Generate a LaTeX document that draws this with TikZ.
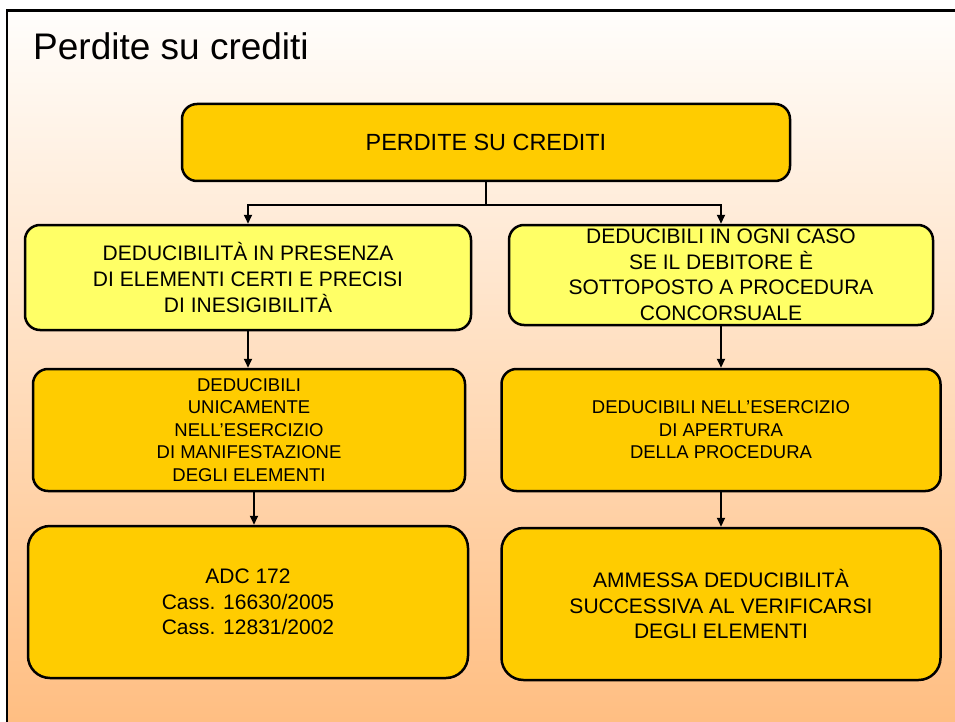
\documentclass[tikz,border=0pt]{standalone}
\usepackage{fontspec}
\setmainfont{Liberation Sans}
\usetikzlibrary{arrows.meta,calc}
\definecolor{dkyel}{HTML}{FFCC00}
\definecolor{ltyel}{HTML}{FFFF66}
\definecolor{bgtop}{HTML}{FFFEFC}
\definecolor{bgmid}{HTML}{FDDCC5}
\definecolor{bgbot}{HTML}{FFBE82}
\begin{document}
\begin{tikzpicture}[x=1pt,y=-1pt,
  box/.style={draw=black, line width=2.5pt, rounded corners=15pt, align=center, inner sep=0pt},
  bigbox/.style={box, rounded corners=22pt},
  fa/.style={font=\fontsize{21}{26}\selectfont},
  fb/.style={font=\fontsize{18.5}{22.4}\selectfont},
  arr/.style={line width=2pt, -{Triangle[width=8pt,length=9pt]}},
  conn/.style={line width=2pt}]
\useasboundingbox (0,0) rectangle (955,722);
% background
\fill[white] (0,0) rectangle (955,722);
\shade[top color=bgtop, middle color=bgmid, bottom color=bgbot] (7,10) rectangle (955,722);
\draw[line width=2.8pt] (7,722) -- (7,10.5) -- (955,10.5);
% title
\node[anchor=base west, inner sep=0pt, font=\fontsize{37}{44}\selectfont] (title) at (33,60) {Perdite su crediti};
% boxes
\node[box, fill=dkyel, minimum width=608pt, minimum height=77pt, font=\fontsize{23.4}{28}\selectfont] (top) at (486,142.5) {PERDITE SU CREDITI};
\node[box, fill=ltyel, fa, minimum width=446pt, minimum height=105pt] (l2l) at (248,277.5)
  {DEDUCIBILITÀ IN PRESENZA\\DI ELEMENTI CERTI E PRECISI\\DI INESIGIBILITÀ};
\node[box, fill=ltyel, font=\fontsize{21}{25.5}\selectfont, minimum width=424pt, minimum height=100pt] (l2r) at (721,275)
  {DEDUCIBILI IN OGNI CASO\\SE IL DEBITORE È\\SOTTOPOSTO A PROCEDURA\\CONCORSUALE};
\node[box, fill=dkyel, fb, minimum width=432pt, minimum height=122pt] (l3l) at (249,430)
  {DEDUCIBILI\\UNICAMENTE\\NELL’ESERCIZIO\\DI MANIFESTAZIONE\\DEGLI ELEMENTI};
\node[box, fill=dkyel, fb, minimum width=439pt, minimum height=122pt] (l3r) at (721,430)
  {DEDUCIBILI NELL’ESERCIZIO\\DI APERTURA\\DELLA PROCEDURA};
\node[bigbox, fill=dkyel, font=\fontsize{21}{25.5}\selectfont, minimum width=440pt, minimum height=152pt] (l4l) at (248,602)
  {ADC 172\\Cass. 16630/2005\\Cass. 12831/2002};
\node[bigbox, fill=dkyel, font=\fontsize{21}{25.5}\selectfont, minimum width=439pt, minimum height=152pt] (l4r) at (721,604)
  {AMMESSA DEDUCIBILITÀ\\SUCCESSIVA AL VERIFICARSI\\DEGLI ELEMENTI};
% connectors
\coordinate (j) at (486,205);
\draw[conn] (top.south) -- (j);
\draw[arr] (j) -| (l2l.north);
\draw[arr] (j) -| (l2r.north);
\draw[arr] (l2l.south) -- (l3l.north -| l2l.south);
\draw[arr] (l2r.south) -- (l3r.north);
\draw[arr] ([xshift=5pt]l3l.south) -- ([xshift=6pt]l4l.north);
\draw[arr] (l3r.south) -- (l4r.north);
\end{tikzpicture}
\end{document}
